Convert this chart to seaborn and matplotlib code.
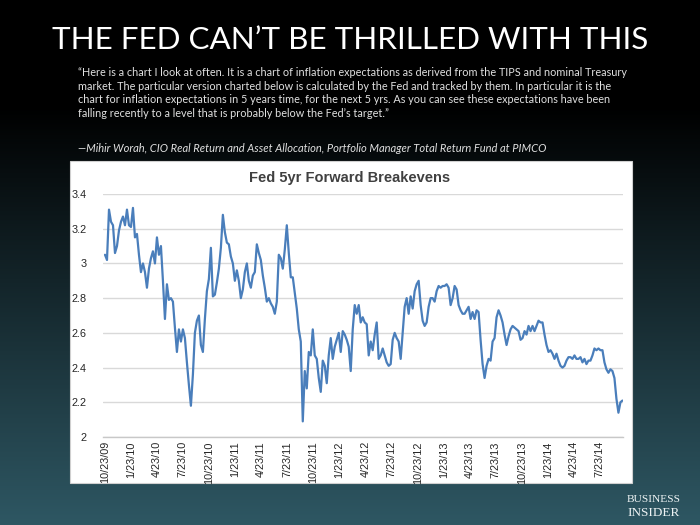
import numpy as np
import pandas as pd
import matplotlib
matplotlib.use("Agg")
import matplotlib.pyplot as plt
from matplotlib import font_manager
from matplotlib.patches import Rectangle
import seaborn as sns

# data (weekly, starting 10/23/09)
start_date = "2009-10-23"
breakeven = [
    3.05, 3.02, 3.31, 3.24, 3.22, 3.06, 3.10, 3.19, 3.24, 3.27,
    3.22, 3.31, 3.22, 3.21, 3.32, 3.15, 3.17, 3.05, 2.95, 3.00,
    2.95, 2.86, 2.97, 3.03, 3.07, 3.00, 3.15, 3.05, 3.10, 2.90,
    2.68, 2.88, 2.79, 2.80, 2.78, 2.63, 2.49, 2.62, 2.55, 2.62,
    2.57, 2.43, 2.30, 2.18, 2.36, 2.60, 2.67, 2.70, 2.53, 2.49,
    2.68, 2.84, 2.91, 3.09, 2.81, 2.82, 2.89, 2.97, 3.09, 3.28,
    3.18, 3.12, 3.11, 3.04, 3.00, 2.90, 2.96, 2.90, 2.80, 2.85,
    2.95, 3.00, 2.90, 2.86, 2.93, 2.95, 3.11, 3.06, 3.02, 2.93,
    2.86, 2.78, 2.80, 2.77, 2.75, 2.71, 2.78, 3.05, 3.03, 2.97,
    3.08, 3.22, 3.06, 2.92, 2.92, 2.83, 2.74, 2.62, 2.55, 2.09,
    2.38, 2.28, 2.49, 2.47, 2.62, 2.47, 2.45, 2.34, 2.26, 2.44,
    2.41, 2.31, 2.47, 2.57, 2.45, 2.52, 2.56, 2.60, 2.49, 2.61,
    2.59, 2.56, 2.52, 2.38, 2.62, 2.76, 2.71, 2.76, 2.66, 2.69,
    2.66, 2.65, 2.47, 2.55, 2.50, 2.59, 2.66, 2.45, 2.47, 2.51,
    2.47, 2.43, 2.41, 2.42, 2.56, 2.60, 2.57, 2.55, 2.45, 2.60,
    2.75, 2.80, 2.71, 2.81, 2.74, 2.84, 2.88, 2.90, 2.76, 2.67,
    2.64, 2.66, 2.75, 2.80, 2.80, 2.78, 2.84, 2.87, 2.86, 2.87,
    2.87, 2.88, 2.86, 2.76, 2.80, 2.87, 2.85, 2.76, 2.73, 2.71,
    2.71, 2.73, 2.75, 2.68, 2.72, 2.68, 2.73, 2.72, 2.56, 2.42,
    2.34, 2.41, 2.45, 2.44, 2.55, 2.57, 2.69, 2.73, 2.70, 2.66,
    2.59, 2.53, 2.58, 2.62, 2.64, 2.63, 2.62, 2.61, 2.56, 2.57,
    2.61, 2.59, 2.64, 2.61, 2.64, 2.61, 2.64, 2.67, 2.66, 2.66,
    2.59, 2.53, 2.49, 2.50, 2.48, 2.45, 2.48, 2.44, 2.41, 2.40,
    2.41, 2.44, 2.46, 2.46, 2.45, 2.47, 2.45, 2.45, 2.46, 2.43,
    2.45, 2.42, 2.44, 2.44, 2.47, 2.51, 2.50, 2.51, 2.50, 2.50,
    2.43, 2.39, 2.37, 2.39, 2.38, 2.34, 2.22, 2.14, 2.20, 2.21,
]
tick_dates = [
    "2009-10-23", "2010-01-23", "2010-04-23", "2010-07-23", "2010-10-23",
    "2011-01-23", "2011-04-23", "2011-07-23", "2011-10-23", "2012-01-23",
    "2012-04-23", "2012-07-23", "2012-10-23", "2013-01-23", "2013-04-23",
    "2013-07-23", "2013-10-23", "2014-01-23", "2014-04-23", "2014-07-23",
]
y_ticks = [2.0, 2.2, 2.4, 2.6, 2.8, 3.0, 3.2, 3.4]
y_tick_labels = ["2", "2.2", "2.4", "2.6", "2.8", "3", "3.2", "3.4"]

headline = "THE FED CAN\u2019T BE THRILLED WITH THIS"
quote_lines = [
    "\u201cHere is a chart I look at often. It is a chart of inflation expectations as derived from the TIPS and nominal Treasury",
    "market. The particular version charted below is calculated by the Fed and tracked by them. In particular it is the",
    "chart for inflation expectations in 5 years time, for the next 5 yrs. As you can see these expectations have been",
    "falling recently to a level that is probably below the Fed\u2019s target.\u201d",
]
attribution = "\u2014Mihir Worah, CIO Real Return and Asset Allocation, Portfolio Manager Total Return Fund at PIMCO"

sns.set_theme(style="white")
plt.rcParams["font.family"] = ["Liberation Sans", "DejaVu Sans"]

names = {f.name for f in font_manager.fontManager.ttflist}
slide_font = "Liberation Sans Narrow" if "Liberation Sans Narrow" in names else "Lato"

dates = pd.date_range(start_date, periods=len(breakeven), freq="7D")
df = pd.DataFrame({"date": dates, "breakeven": breakeven})

W, H = 700, 525
fig = plt.figure(figsize=(7, 5.25), dpi=100)

# slide background: black fading into dark teal
bg = fig.add_axes([0, 0, 1, 1], zorder=-10)
grad = np.clip((np.linspace(0, 1, 256) - 0.2) / 0.8, 0, 1)[:, None]
top = np.array([0.0, 0.0, 0.0])
bottom = np.array([0x2e, 0x57, 0x63]) / 255
img = top + grad[..., None] * (bottom - top)
bg.imshow(np.repeat(img, 2, axis=1), aspect="auto", extent=[0, 1, 0, 1], origin="upper")
bg.axis("off")

# white chart panel
fig.patches.append(Rectangle((70 / W, 1 - 483 / H), 562 / W, 322 / H,
                             transform=fig.transFigure, facecolor="white",
                             edgecolor="#d0d0d0", linewidth=0.8, zorder=-5))

ax = fig.add_axes([103 / W, 1 - 437 / H, 520 / W, 243 / H])
ax.set_facecolor("white")
sns.lineplot(data=df, x="date", y="breakeven", color="#4a7ebb", linewidth=1.6, ax=ax)

ax.set_ylim(2.0, 3.4)
ax.set_xlim(pd.Timestamp("2009-10-16"), pd.Timestamp("2014-10-12"))
ax.set_yticks(y_ticks)
ax.set_yticklabels(y_tick_labels)
tick_ts = pd.to_datetime(tick_dates)
ax.set_xticks(tick_ts)
ax.set_xticklabels([f"{d.month}/{d.day}/{d.strftime('%y')}" for d in tick_ts], rotation=90)
ax.tick_params(axis="both", length=0, labelsize=7.8, labelcolor="#262626")
ax.tick_params(axis="y", pad=12)
ax.tick_params(axis="x", pad=3)
ax.set_xlabel("")
ax.set_ylabel("")
ax.grid(True, axis="y", color="#d9d9d9", linewidth=1)
ax.grid(False, axis="x")
for s in ["top", "right", "left"]:
    ax.spines[s].set_visible(False)
ax.spines["bottom"].set_color("#c8c8c8")
ax.spines["bottom"].set_linewidth(1)

fig.text(350 / W, 1 - 178 / H, "Fed 5yr Forward Breakevens", ha="center", va="center",
         fontsize=10.5, fontweight="bold", color="#404040")

# slide texts
t_head = fig.text(52 / W, 1 - 49 / H, headline, ha="left", va="baseline",
                  fontsize=22, color="white", family=slide_font)
q_texts = []
for i, line in enumerate(quote_lines):
    q_texts.append(fig.text(78 / W, 1 - (73 + 13.4 * i) / H, line, ha="left", va="center",
                            fontsize=7.5, color="#e0e0e0", family=slide_font))
t_attr = fig.text(78 / W, 1 - 148 / H, attribution, ha="left", va="center",
                  fontsize=7.5, color="#e0e0e0", family=slide_font, style="italic")

t_bi1 = fig.text(627 / W, 1 - 499 / H, "BUSINESS", ha="left", va="center", fontsize=8.5,
                 color="#eef3f4", family="Liberation Serif")
t_bi2 = fig.text(627 / W, 1 - 513 / H, "INSIDER", ha="left", va="center", fontsize=8.5,
                 color="#eef3f4", family="Liberation Serif")

# scale slide texts to the widths seen in the reference
fig.canvas.draw()
r = fig.canvas.get_renderer()
def fit(t, target):
    w = t.get_window_extent(r).width
    t.set_fontsize(t.get_fontsize() * target / w)
fit(t_head, 593)
fit(q_texts[0], 543)
for t in q_texts[1:]:
    t.set_fontsize(q_texts[0].get_fontsize())
fit(t_attr, 467)
fit(t_bi1, 54)
fit(t_bi2, 52)

fig.savefig("out.png", dpi=100)
